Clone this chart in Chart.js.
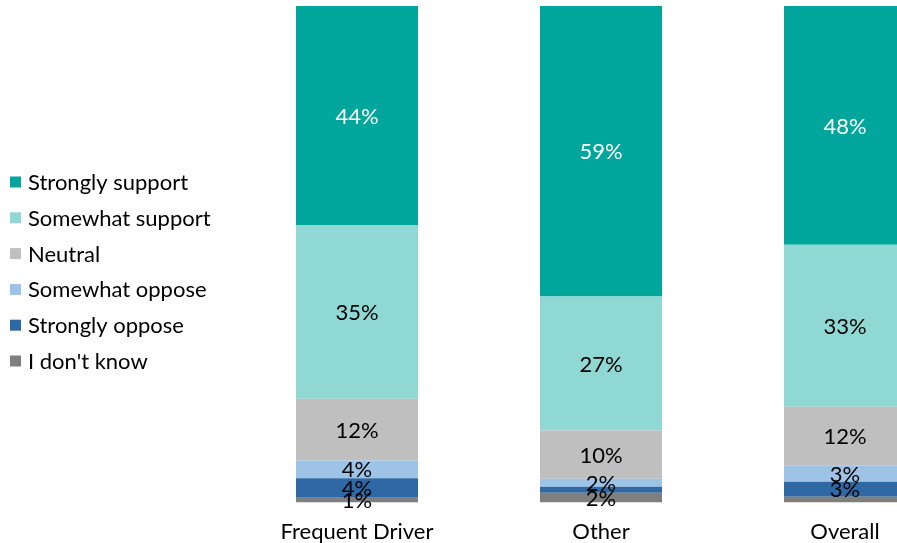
<!DOCTYPE html>
<html>
<head>
<meta charset="utf-8">
<script src="https://cdn.jsdelivr.net/npm/chart.js@4/dist/chart.umd.min.js"></script>
<style>
  html, body { margin: 0; padding: 0; background: #fff; overflow: hidden; }
  #wrap { width: 897px; height: 543px; overflow: hidden; }
</style>
</head>
<body>
<div id="wrap"><canvas id="chart" width="967" height="543"></canvas></div>
<script>
// categories along the x axis
const categories = ['Frequent Driver', 'Other', 'Overall'];

// series, bottom of the stack first (percent of respondents)
const dontKnow        = [1.0, 2.0, 1.2];
const stronglyOppose  = [3.9, 1.2, 3.0];
const somewhatOppose  = [3.6, 1.6, 3.2];
const neutral         = [12.4, 9.7, 11.9];
const somewhatSupport = [35.0, 27.0, 32.6];
const stronglySupport = [44.1, 58.5, 48.1];

// segments whose value label is not shown in the original
const hiddenLabels = [['Other', 'Strongly oppose'], ['Overall', "I don't know"]];

const series = [
    { label: "I don't know",     data: dontKnow,        color: '#7f7f7f', text: '#000' },
    { label: 'Strongly oppose',  data: stronglyOppose,  color: '#2e68a5', text: '#000' },
    { label: 'Somewhat oppose',  data: somewhatOppose,  color: '#9dc3e6', text: '#000' },
    { label: 'Neutral',          data: neutral,         color: '#bfbfbf', text: '#000' },
    { label: 'Somewhat support', data: somewhatSupport, color: '#8fd8d4', text: '#000' },
    { label: 'Strongly support', data: stronglySupport, color: '#00a59b', text: '#fff' }
];

const FONT = 'Lato, "DejaVu Sans", sans-serif';
const SIZE = 22;

// value labels in the middle of each segment
const segmentLabels = {
    id: 'segmentLabels',
    afterDatasetsDraw(chart) {
        const ctx = chart.ctx;
        ctx.save();
        ctx.font = SIZE + 'px ' + FONT;
        ctx.textAlign = 'center';
        ctx.textBaseline = 'middle';
        chart.data.datasets.forEach((ds, i) => {
            const meta = chart.getDatasetMeta(i);
            meta.data.forEach((bar, j) => {
                const v = ds.data[j];
                if (!v) return;
                const cat = chart.data.labels[j];
                if (hiddenLabels.some(h => h[0] === cat && h[1] === ds.label)) return;
                const p = bar.getProps(['x', 'y', 'base'], true);
                ctx.fillStyle = ds.textColor;
                ctx.fillText(Math.round(v) + '%', p.x, (p.y + p.base) / 2 + 1);
            });
        });
        ctx.restore();
    }
};

// legend on the left, top series first
const sideLegend = {
    id: 'sideLegend',
    afterDraw(chart) {
        const ctx = chart.ctx;
        const items = chart.data.datasets.slice().reverse();
        ctx.save();
        ctx.font = SIZE + 'px ' + FONT;
        ctx.textAlign = 'left';
        ctx.textBaseline = 'middle';
        items.forEach((ds, k) => {
            const y = 182 + k * 35.8;
            ctx.fillStyle = ds.backgroundColor;
            ctx.fillRect(10, y - 5.5, 11, 11);
            ctx.fillStyle = '#000';
            ctx.fillText(ds.label, 28, y + 1);
        });
        ctx.restore();
    }
};

new Chart(document.getElementById('chart'), {
    type: 'bar',
    data: {
        labels: categories,
        datasets: series.map(s => ({
            label: s.label,
            data: s.data,
            backgroundColor: s.color,
            textColor: s.text,
            borderWidth: 0,
            categoryPercentage: 1,
            barPercentage: 0.5
        }))
    },
    options: {
        responsive: false,
        animation: false,
        devicePixelRatio: 1,
        layout: { padding: { left: 235, top: 6, right: 0, bottom: -18 } },
        plugins: {
            legend: { display: false },
            tooltip: { enabled: false }
        },
        scales: {
            x: {
                stacked: true,
                grid: { display: false, drawTicks: false },
                border: { display: false },
                ticks: { padding: 16, color: '#000', font: { family: FONT, size: SIZE } }
            },
            y: {
                stacked: true,
                display: false,
                min: 0,
                max: 100
            }
        }
    },
    plugins: [segmentLabels, sideLegend]
});
</script>
</body>
</html>
